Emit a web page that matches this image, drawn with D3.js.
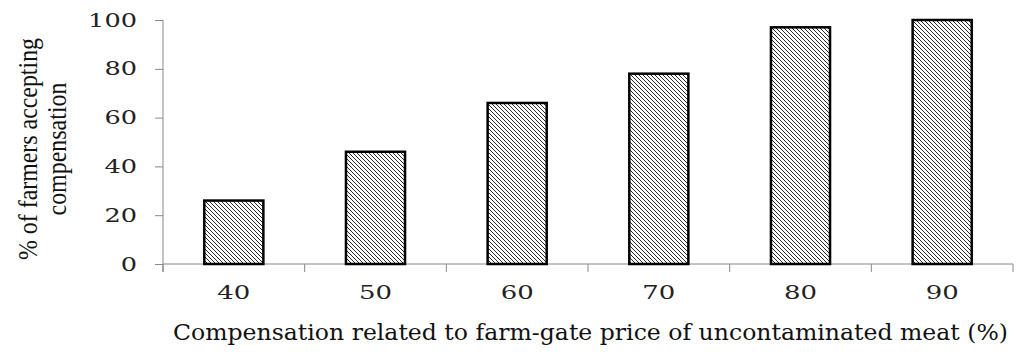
<!DOCTYPE html>
<html>
<head>
<meta charset="utf-8">
<script src="https://cdn.jsdelivr.net/npm/d3@7"></script>
<style>
  html, body { margin: 0; padding: 0; background: #fff; }
  svg { display: block; }
</style>
</head>
<body>
<svg id="chart" width="1018" height="354"></svg>
<script>
const categories = ["40", "50", "60", "70", "80", "90"];
const values = [26, 46, 66, 78, 97, 100];
const yTicks = [0, 20, 40, 60, 80, 100];
const yTitleLines = ["% of farmers accepting", "compensation"];
const xTitle = "Compensation related to farm-gate price of uncontaminated meat (%)";

const svg = d3.select("#chart");
const plotLeft = 163, plotRight = 1013, plotTop = 20, plotBottom = 264;

const defs = svg.append("defs");
const pat = defs.append("pattern")
  .attr("id", "hatch").attr("patternUnits", "userSpaceOnUse")
  .attr("width", 4).attr("height", 4);
pat.append("rect").attr("width", 4).attr("height", 4).attr("fill", "#fff");
pat.append("path")
  .attr("d", "M-1,-1 L5,5 M-1,3 L1,5 M3,-1 L5,1")
  .attr("stroke", "#2a2a2a").attr("stroke-width", 1.0);

const x = d3.scaleBand().domain(categories).range([plotLeft, plotRight]).padding(0);
const y = d3.scaleLinear().domain([0, 100]).range([plotBottom, plotTop]);
const barFrac = 0.417;

// Y axis
const yAxis = svg.append("g").attr("transform", `translate(${plotLeft},0)`)
  .call(d3.axisLeft(y).tickValues(yTicks).tickSize(8).tickPadding(18));
yAxis.select(".domain").attr("stroke", "#888").attr("d", `M0,${plotTop}V${plotBottom + 8}`);
yAxis.selectAll(".tick line").attr("stroke", "#888");
yAxis.selectAll(".tick text")
  .attr("font-family", "DejaVu Serif").attr("font-size", 19).attr("fill", "#222")
  .attr("textLength", d => String(d).length * 16.3)
  .attr("lengthAdjust", "spacingAndGlyphs");

// X axis
const xAxis = svg.append("g").attr("transform", `translate(0,${plotBottom})`)
  .call(d3.axisBottom(x).tickSize(0).tickPadding(22));
xAxis.select(".domain").attr("stroke", "#888").attr("d", `M${plotLeft},0H${plotRight}`);
xAxis.selectAll(".tick text")
  .attr("font-family", "DejaVu Serif").attr("font-size", 19).attr("fill", "#222")
  .attr("textLength", d => String(d).length * 16.5)
  .attr("lengthAdjust", "spacingAndGlyphs");
const boundaries = categories.map(c => x(c)).concat([x(categories[categories.length - 1]) + x.step()]);
xAxis.selectAll("line.btick").data(boundaries).enter().append("line")
  .attr("class", "btick")
  .attr("x1", d => d).attr("x2", d => d)
  .attr("y1", 0).attr("y2", 8)
  .attr("stroke", "#888");

// Bars
svg.append("g").selectAll("rect").data(values).enter().append("rect")
  .attr("x", (d, i) => x(categories[i]) + x.bandwidth() * (1 - barFrac) / 2)
  .attr("width", x.bandwidth() * barFrac)
  .attr("y", d => y(d))
  .attr("height", d => y(0) - y(d))
  .attr("fill", "url(#hatch)")
  .attr("stroke", "#000").attr("stroke-width", 2.5);

// Y title
const yt = svg.append("g").attr("transform", "translate(0,149) rotate(-90)");
const yLens = [222, 133];
const yXs = [37, 66];
yTitleLines.forEach((t, i) => {
  yt.append("text")
    .attr("x", 0).attr("y", yXs[i])
    .attr("text-anchor", "middle")
    .attr("font-family", "Liberation Serif").attr("font-size", 27)
    .attr("fill", "#111")
    .attr("textLength", yLens[i]).attr("lengthAdjust", "spacingAndGlyphs")
    .text(t);
});

// X title
svg.append("text")
  .attr("x", 590.5).attr("y", 340)
  .attr("text-anchor", "middle")
  .attr("font-family", "DejaVu Serif").attr("font-size", 23)
  .attr("fill", "#111")
  .attr("textLength", 835).attr("lengthAdjust", "spacingAndGlyphs")
  .text(xTitle);
</script>
</body>
</html>
